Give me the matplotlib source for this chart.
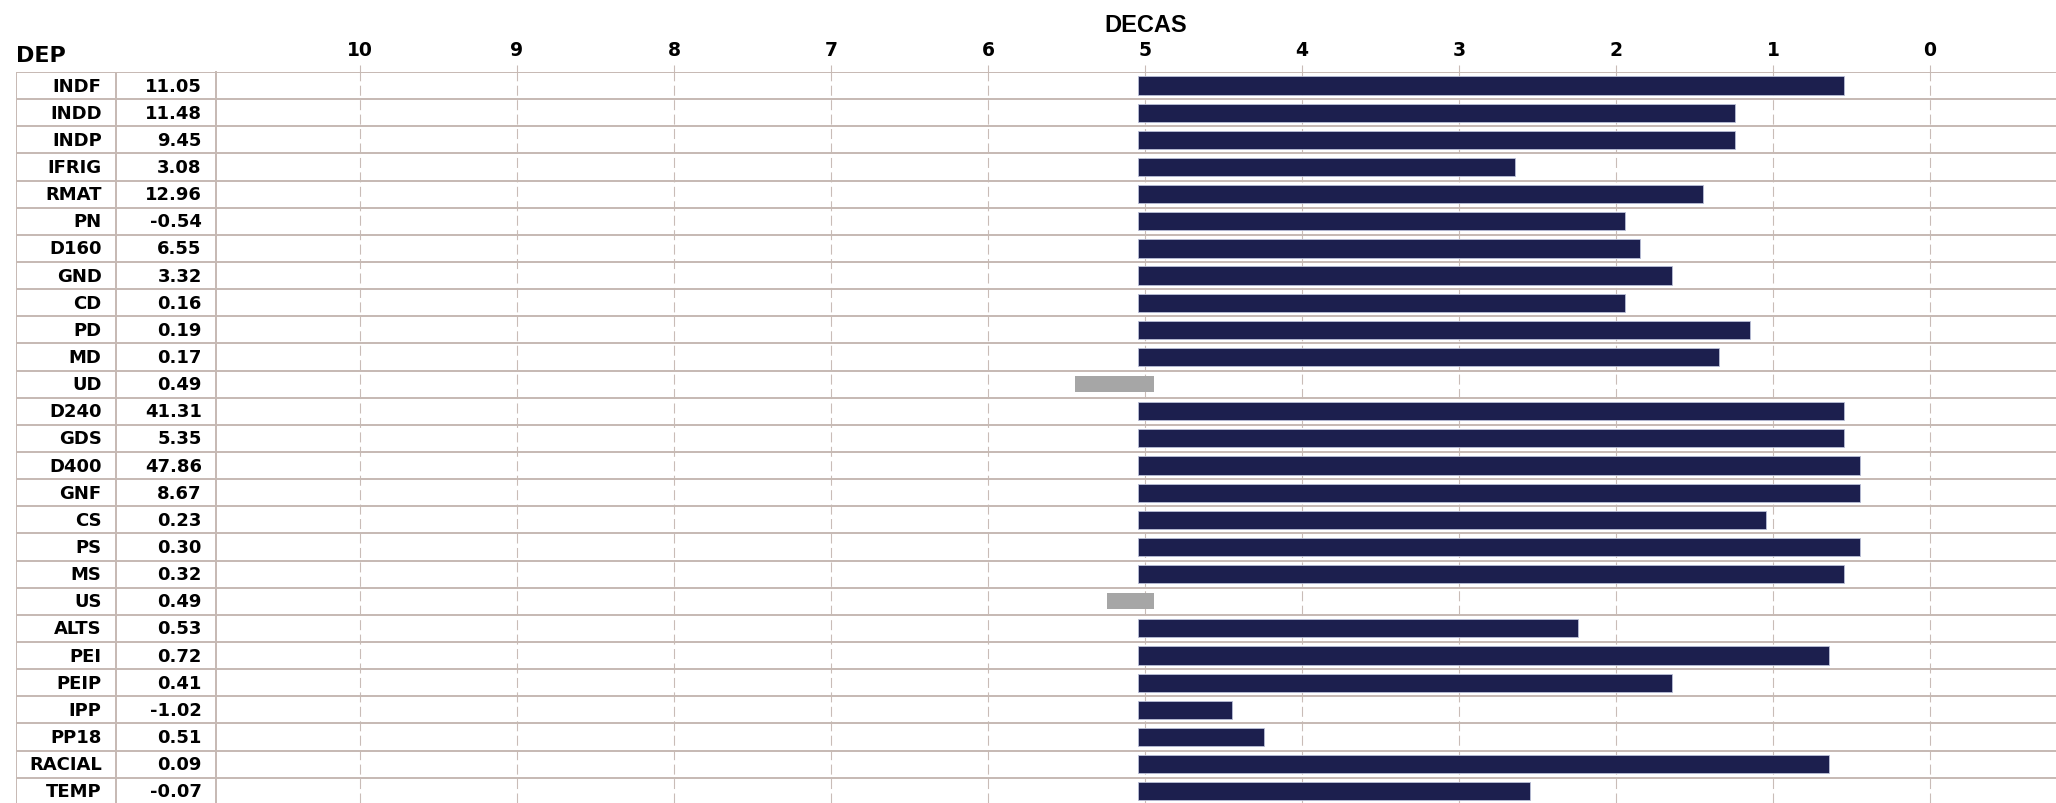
import matplotlib.pyplot as plt
import numpy as np

# rows of the table
deps = ['INDF', 'INDD', 'INDP', 'IFRIG', 'RMAT', 'PN', 'D160', 'GND', 'CD', 'PD',
        'MD', 'UD', 'D240', 'GDS', 'D400', 'GNF', 'CS', 'PS', 'MS', 'US',
        'ALTS', 'PEI', 'PEIP', 'IPP', 'PP18', 'RACIAL', 'TEMP']
dep_vals = ['11.05', '11.48', '9.45', '3.08', '12.96', '-0.54', '6.55', '3.32', '0.16', '0.19',
            '0.17', '0.49', '41.31', '5.35', '47.86', '8.67', '0.23', '0.30', '0.32', '0.49',
            '0.53', '0.72', '0.41', '-1.02', '0.51', '0.09', '-0.07']
# decas reached by each row (None = grey row)
decas = [0.5, 1.2, 1.2, 2.6, 1.4, 1.9, 1.8, 1.6, 1.9, 1.1,
         1.3, None, 0.5, 0.5, 0.4, 0.4, 1.0, 0.4, 0.5, None,
         2.2, 0.6, 1.6, 4.4, 4.2, 0.6, 2.5]
# grey rows: how far they go past 5
grey = {'UD': 5.4, 'US': 5.2}
ticks = list(range(0, 11))

base = 5.0
grey_base = 4.9
off = 0.045
navy = '#1c1f4e'
gris = '#a6a6a6'
line_c = '#c6b9b3'
grid_c = '#c9bcb7'

W, H = 2056, 804
fig = plt.figure(figsize=(W / 100, H / 100), dpi=100)

top_px = 73
row_h = 27.14
n = len(deps)
ybot = -0.5 + (H - top_px) / row_h

x_left = 215.7
x5, x0 = 1145.0, 1930.0
unit = (x0 - x5) / 5
xmax = (x0 - x_left) / unit
xmin = (x0 - W) / unit

ax = fig.add_axes([x_left / W, 0, 1 - x_left / W, (H - top_px) / H])
tab = fig.add_axes([15.7 / W, 0, (x_left - 15.7) / W, (H - top_px) / H])

for i, d in enumerate(decas):
    if d is None:
        g = grey[deps[i]]
        ax.barh(i, g - grey_base, left=grey_base + off, height=0.6, color=gris, zorder=3)
    else:
        ax.barh(i, base - d, left=d + off, height=0.67, color=navy,
                edgecolor='#b9bfd6', linewidth=0.6, zorder=3)

ax.set_xlim(xmax, xmin)
ax.set_ylim(ybot, -0.5)
ax.xaxis.tick_top()
ax.set_xticks(ticks)
ax.set_xticklabels([str(t) for t in ticks], fontweight='bold', fontsize=13.5)
ax.tick_params(axis='x', length=5, color=grid_c, pad=4)
ax.set_yticks([])
for t in ticks:
    ax.axvline(t, color=grid_c, lw=0.8, ls=(0, (9, 4)), zorder=1)
for b in np.arange(-0.5, n + 0.5):
    ax.axhline(b, color=line_c, lw=1.4, zorder=2)
for s in ax.spines.values():
    s.set_visible(False)
ax.spines['left'].set_visible(True)
ax.spines['left'].set_color(line_c)
ax.spines['left'].set_linewidth(1.4)

# table on the left
tab.set_xlim(15.7, x_left)
tab.set_ylim(ybot, -0.5)
tab.axis('off')
for b in np.arange(-0.5, n + 0.5):
    tab.axhline(b, color=line_c, lw=1.4)
for xv in [15.7, 115.7]:
    tab.axvline(xv, color=line_c, lw=1.4)
for i in range(n):
    tab.text(101.7, i, deps[i], ha='right', va='center', fontweight='bold', fontsize=13)
    tab.text(201.7, i, dep_vals[i], ha='right', va='center', fontweight='bold', fontsize=13)

fig.text(15.7 / W, 1 - 56 / H, 'DEP', ha='left', va='center', fontweight='bold', fontsize=16)
fig.text(1146 / W, 1 - 25 / H, 'DECAS', ha='center', va='center', fontweight='bold',
         fontsize=17, family='Liberation Sans')

plt.savefig('out.png', dpi=100)
